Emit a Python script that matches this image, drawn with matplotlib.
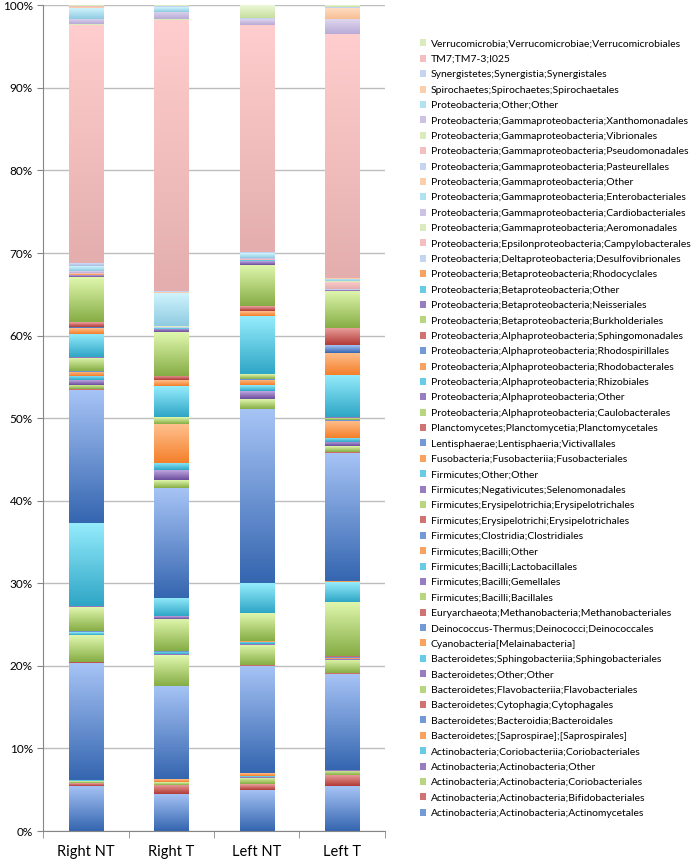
import matplotlib
matplotlib.use('Agg')
import matplotlib.pyplot as plt
import numpy as np
from matplotlib.colors import LinearSegmentedColormap
from matplotlib.ticker import PercentFormatter

plt.rcParams['font.family'] = ['Lato', 'DejaVu Sans']

samples = ['Right NT', 'Right T', 'Left NT', 'Left T']

taxa = [
    'Actinobacteria;Actinobacteria;Actinomycetales',
    'Actinobacteria;Actinobacteria;Bifidobacteriales',
    'Actinobacteria;Actinobacteria;Coriobacteriales',
    'Actinobacteria;Actinobacteria;Other',
    'Actinobacteria;Coriobacteriia;Coriobacteriales',
    'Bacteroidetes;[Saprospirae];[Saprospirales]',
    'Bacteroidetes;Bacteroidia;Bacteroidales',
    'Bacteroidetes;Cytophagia;Cytophagales',
    'Bacteroidetes;Flavobacteriia;Flavobacteriales',
    'Bacteroidetes;Other;Other',
    'Bacteroidetes;Sphingobacteriia;Sphingobacteriales',
    'Cyanobacteria[Melainabacteria]',
    'Deinococcus-Thermus;Deinococci;Deinococcales',
    'Euryarchaeota;Methanobacteria;Methanobacteriales',
    'Firmicutes;Bacilli;Bacillales',
    'Firmicutes;Bacilli;Gemellales',
    'Firmicutes;Bacilli;Lactobacillales',
    'Firmicutes;Bacilli;Other',
    'Firmicutes;Clostridia;Clostridiales',
    'Firmicutes;Erysipelotrichi;Erysipelotrichales',
    'Firmicutes;Erysipelotrichia;Erysipelotrichales',
    'Firmicutes;Negativicutes;Selenomonadales',
    'Firmicutes;Other;Other',
    'Fusobacteria;Fusobacteriia;Fusobacteriales',
    'Lentisphaerae;Lentisphaeria;Victivallales',
    'Planctomycetes;Planctomycetia;Planctomycetales',
    'Proteobacteria;Alphaproteobacteria;Caulobacterales',
    'Proteobacteria;Alphaproteobacteria;Other',
    'Proteobacteria;Alphaproteobacteria;Rhizobiales',
    'Proteobacteria;Alphaproteobacteria;Rhodobacterales',
    'Proteobacteria;Alphaproteobacteria;Rhodospirillales',
    'Proteobacteria;Alphaproteobacteria;Sphingomonadales',
    'Proteobacteria;Betaproteobacteria;Burkholderiales',
    'Proteobacteria;Betaproteobacteria;Neisseriales',
    'Proteobacteria;Betaproteobacteria;Other',
    'Proteobacteria;Betaproteobacteria;Rhodocyclales',
    'Proteobacteria;Deltaproteobacteria;Desulfovibrionales',
    'Proteobacteria;Epsilonproteobacteria;Campylobacterales',
    'Proteobacteria;Gammaproteobacteria;Aeromonadales',
    'Proteobacteria;Gammaproteobacteria;Cardiobacteriales',
    'Proteobacteria;Gammaproteobacteria;Enterobacteriales',
    'Proteobacteria;Gammaproteobacteria;Other',
    'Proteobacteria;Gammaproteobacteria;Pasteurellales',
    'Proteobacteria;Gammaproteobacteria;Pseudomonadales',
    'Proteobacteria;Gammaproteobacteria;Vibrionales',
    'Proteobacteria;Gammaproteobacteria;Xanthomonadales',
    'Proteobacteria;Other;Other',
    'Spirochaetes;Spirochaetes;Spirochaetales',
    'Synergistetes;Synergistia;Synergistales',
    'TM7;TM7-3;I025',
    'Verrucomicrobia;Verrucomicrobiae;Verrucomicrobiales',
]

# relative abundance (%) per taxon, same order as taxa
right_nt = [5.5, 0.35, 0.2, 0.05, 0.05, 0.1, 14.1, 0.2, 3.2, 0.1, 0.3, 0.05, 0.05, 0.05,
            2.9, 0.1, 10.1, 0.05, 16.1, 0.1, 0.5, 0.6, 0.5, 0.5, 0.05, 0.05, 1.6, 0.1,
            2.8, 0.7, 0.2, 0.6, 5.4, 0.2, 0.1, 0.05, 0.05, 0.05, 0.05, 0.2, 0.6, 0.05,
            0.4, 28.9, 0.05, 0.7, 1.3, 0.05, 0.1, 0.05, 0.1]
right_t = [4.5, 1.1, 0.3, 0.05, 0.05, 0.3, 11.3, 0.05, 3.7, 0.1, 0.3, 0.05, 0.05, 0.05,
           3.9, 0.3, 2.2, 0.05, 13.3, 0.05, 0.9, 1.2, 0.9, 4.7, 0.05, 0.05, 0.8, 0.05,
           3.7, 0.7, 0.05, 0.5, 5.3, 0.4, 0.1, 0.05, 0.05, 0.05, 0.05, 0.1, 4.0, 0.05,
           0.1, 33.0, 0.05, 0.9, 0.6, 0.05, 0.05, 0.05, 0.05]
left_nt = [5.0, 0.7, 0.8, 0.1, 0.1, 0.3, 13.1, 0.05, 2.5, 0.05, 0.3, 0.05, 0.05, 0.05,
           3.3, 0.1, 3.6, 0.05, 21.1, 0.05, 1.2, 0.9, 0.7, 0.7, 0.05, 0.05, 0.6, 0.05,
           7.0, 0.6, 0.05, 0.6, 5.0, 0.4, 0.1, 0.05, 0.05, 0.05, 0.05, 0.1, 0.6, 0.05,
           0.1, 27.5, 0.05, 0.7, 0.05, 0.05, 0.05, 0.05, 1.5]
left_t = [5.4, 1.4, 0.5, 0.05, 0.05, 0.05, 11.6, 0.05, 1.6, 0.1, 0.1, 0.1, 0.05, 0.1,
          6.6, 0.05, 2.4, 0.05, 15.6, 0.05, 0.7, 0.5, 0.5, 2.1, 0.05, 0.05, 0.3, 0.05,
          5.1, 2.7, 0.9, 2.1, 4.5, 0.05, 0.05, 0.05, 0.05, 0.9, 0.05, 0.05, 0.3, 0.05,
          0.05, 29.5, 0.05, 1.8, 0.05, 1.3, 0.05, 0.05, 0.2]

# (top, bottom) gradient colours, office-style palette
base = [('#A6C3F5', '#3566B0'), ('#EBA3A1', '#B23A36'), ('#E0F7AE', '#86AD45'),
        ('#BFA6E0', '#6B4C9C'), ('#95ECFC', '#2FA6C6'), ('#FFC08E', '#F47F2A')]
light = [('#DCE6F8', '#A9BFE8'), ('#FFCDCD', '#E4AEAE'), ('#EBF8D8', '#C6DE9E'),
         ('#DED6EE', '#B8AAD6'), ('#CFF3FC', '#8FCBE2'), ('#FFDDC2', '#F7BE92')]
palette = [base[i % 6] for i in range(36)] + [light[i % 6] for i in range(15)]

data = np.array([right_nt, right_t, left_nt, left_t]).T
data = data / data.sum(axis=0) * 100

fig = plt.figure(figsize=(6.96, 8.61), dpi=100)
ax = fig.add_axes([0.062, 0.0348, 0.491, 0.959])

x = np.arange(len(samples))
bottom = np.zeros(len(samples))
handles = []
grad = np.linspace(0, 1, 64).reshape(-1, 1)
for i, name in enumerate(taxa):
    top_c, bot_c = palette[i]
    cmap = LinearSegmentedColormap.from_list('g%d' % i, [bot_c, top_c])
    bars = ax.bar(x, data[i], 0.4, bottom=bottom, color=cmap(0.55), label=name,
                  edgecolor='none', zorder=2)
    for b in bars:
        bx, by, bw, bh = b.get_x(), b.get_y(), b.get_width(), b.get_height()
        im = ax.imshow(grad, cmap=cmap, origin='lower', aspect='auto',
                       extent=(bx, bx + bw, by, by + bh), zorder=2.5)
        im.set_clip_path(b)
    handles.append(bars)
    bottom += data[i]

ax.set_xlim(-0.5, 3.5)
ax.set_ylim(0, 100)
ax.set_yticks(np.arange(0, 101, 10))
ax.yaxis.set_major_formatter(PercentFormatter(decimals=0))
ax.grid(axis='y', color='#BDBDBD', linewidth=1, zorder=0)
ax.set_axisbelow(True)
ax.set_xticks(x)
ax.set_xticklabels(samples, fontsize=10.5)
ax.set_xticks(np.arange(-0.5, 4, 1), minor=True)
ax.tick_params(axis='x', which='major', length=0, pad=10)
ax.tick_params(axis='x', which='minor', length=5, color='#868686')
ax.tick_params(axis='y', length=4, color='#868686', labelsize=8.5)
for s in ['top', 'right']:
    ax.spines[s].set_visible(False)
for s in ['left', 'bottom']:
    ax.spines[s].set_color('#868686')

fig.legend(handles[::-1], taxa[::-1], loc='upper left', bbox_to_anchor=(0.597, 0.959),
           frameon=False, fontsize=7.5, handlelength=0.65, handleheight=0.65,
           handletextpad=0.4, labelspacing=0.6, borderaxespad=0)

fig.savefig('out.png', dpi=100)
